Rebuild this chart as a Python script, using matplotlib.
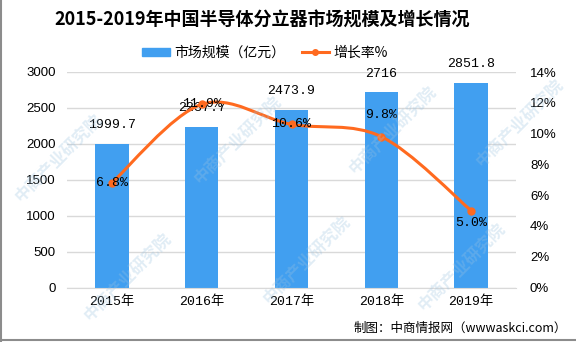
import numpy as np
import matplotlib.pyplot as plt
from matplotlib.path import Path
from matplotlib.patches import PathPatch
from matplotlib.lines import Line2D

# 数据
years = ["2015年", "2016年", "2017年", "2018年", "2019年"]
market_size = [1999.7, 2237.7, 2473.9, 2716, 2851.8]   # 亿元
growth_rate = [6.8, 11.9, 10.6, 9.8, 5.0]              # %
left_ticks = [0, 500, 1000, 1500, 2000, 2500, 3000]
right_ticks = [0, 2, 4, 6, 8, 10, 12, 14]

# 增长率标签的纵向偏移（像素）
rate_label_dy = [0, 0, 0, 22, -12]

bar_color = "#419ff0"
line_color = "#ff6a1f"
grid_color = "#d9d9d9"
cjk = ["Noto Sans CJK SC", "DejaVu Sans"]
mono_cjk = ["Liberation Mono", "Noto Sans CJK SC"]

fig = plt.figure(figsize=(5.76, 3.42), dpi=100)
ax = fig.add_axes([67 / 576, 1 - 287.5 / 342, 449 / 576, 215.5 / 342])
ax2 = ax.twinx()

x = np.arange(len(years))
ax.bar(x, market_size, width=0.37, color=bar_color, zorder=2)
ax.set_xlim(-0.5, len(years) - 0.5)
ax.set_ylim(0, 3000)
ax.set_yticks(left_ticks)
ax.set_yticklabels([str(t) for t in left_ticks], fontfamily="Liberation Sans", fontsize=9.5)
ax.set_xticks(x)
ax.set_xticklabels(years, family=mono_cjk, fontsize=9.5)
ax.tick_params(axis="both", length=0, pad=8)
ax.tick_params(axis="x", pad=6)
ax.grid(axis="y", color=grid_color, linewidth=1, zorder=0)
for s in ["left", "right", "top"]:
    ax.spines[s].set_visible(False)
ax.spines["bottom"].set_color(grid_color)

for xi, v in zip(x, market_size):
    ax.annotate(f"{v:g}", (xi, v), xytext=(0, 9), textcoords="offset points",
                ha="center", va="bottom", fontfamily="Liberation Mono", fontsize=9.5)

# 平滑曲线（三次贝塞尔）
ax2.set_ylim(0, 14)
ax2.set_yticks(right_ticks)
ax2.set_yticklabels([f"{t}%" for t in right_ticks], fontfamily="Liberation Sans", fontsize=9.5)
ax2.tick_params(axis="y", length=0, pad=10)
for s in ax2.spines.values():
    s.set_visible(False)

pts = np.column_stack([x, growth_rate]).astype(float)
ext = np.vstack([pts[0], pts, pts[-1]])
verts = [tuple(pts[0])]
codes = [Path.MOVETO]
for i in range(len(pts) - 1):
    p0, p1, p2, p3 = ext[i], ext[i + 1], ext[i + 2], ext[i + 3]
    c1 = p1 + (p2 - p0) / 6
    c2 = p2 - (p3 - p1) / 6
    verts += [tuple(c1), tuple(c2), tuple(p2)]
    codes += [Path.CURVE4] * 3
ax2.add_patch(PathPatch(Path(verts, codes), facecolor="none", edgecolor=line_color,
                        linewidth=2.2, capstyle="round", zorder=3))
ax2.plot(x, growth_rate, linestyle="none", marker="o", markersize=5,
         color=line_color, zorder=4)

for xi, v, dy in zip(x, growth_rate, rate_label_dy):
    ax2.annotate(f"{v:.1f}%", (xi, v), xytext=(0, dy), textcoords="offset pixels",
                 ha="center", va="center", fontfamily="Liberation Mono", fontsize=9.5,
                 zorder=5)

# 标题与图例
fig.text(0.455, 0.94, "2015-2019年中国半导体分立器市场规模及增长情况", ha="center", va="center",
         family=cjk, fontsize=13, fontweight="bold")
handles = [
    plt.Rectangle((0, 0), 1, 1, color=bar_color),
    Line2D([0], [0], color=line_color, linewidth=2.2, marker="o", markersize=4),
]
fig.legend(handles, ["市场规模（亿元）", "增长率%"], loc="center", bbox_to_anchor=(0.46, 0.845),
           ncol=2, frameon=False, prop={"family": cjk, "size": 10},
           handlelength=2.0, handleheight=0.55, columnspacing=1.2, handletextpad=0.3)

# 来源
fig.text(0.985, 0.04, "制图：中商情报网（wwwaskci.com）", ha="right", va="center",
         family=cjk, fontsize=9)

# 水印
wm_pos = [(0.02, 0.40), (0.14, 0.05), (0.33, 0.45), (0.45, 0.10),
          (0.60, 0.48), (0.72, 0.08), (0.82, 0.50)]
for wx, wy in wm_pos:
    fig.text(wx, wy, "中商产业研究院", rotation=45, ha="left", va="bottom",
             family=cjk, fontsize=12, color="#9cc3e0", alpha=0.3, fontweight="bold",
             zorder=10)

# 外框
fig.add_artist(Line2D([0.002, 0.002], [0, 1], color="#8c8c8c", linewidth=1.5))
fig.add_artist(Line2D([0, 1], [0.006, 0.006], color="#8c8c8c", linewidth=1.5))

fig.savefig("out.png", dpi=100)
